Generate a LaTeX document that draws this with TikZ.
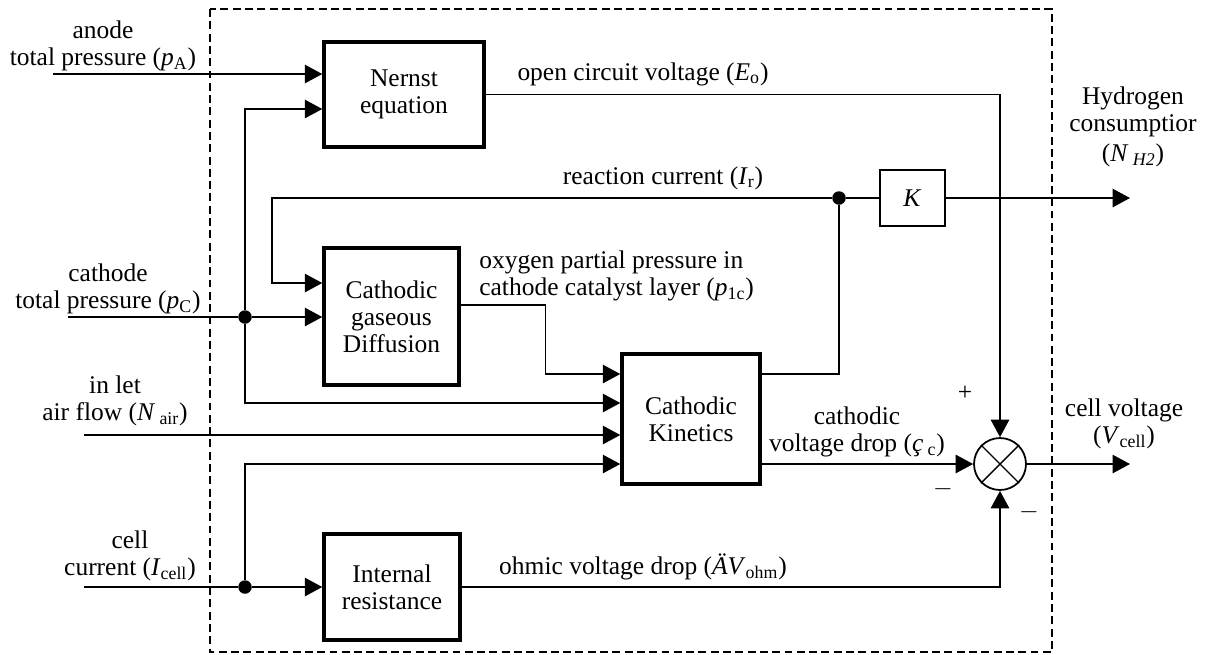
\documentclass[tikz,border=0pt]{standalone}
\usepackage{fontspec}
\setmainfont{Liberation Serif}
\usetikzlibrary{calc}
\usetikzlibrary{positioning}
\usetikzlibrary{arrows.meta}
\tikzstyle{blocknode} = [draw, line width=2pt, rectangle, align=center, inner sep=0pt]
\tikzstyle{gainnode} = [draw, line width=0.8pt, rectangle, minimum width=1.3cm, minimum height=1.12cm]
\tikzstyle{dotnode} = [circle, fill, inner sep=0pt, minimum size=0.27cm]
\tikzstyle{sumnode} = [draw, circle, line width=1pt, minimum size=1.04cm, inner sep=0pt]
\tikzstyle{lblnode} = [align=center, inner sep=0pt]
\tikzstyle{sig} = [line width=0.8pt]
\tikzstyle{sigarr} = [sig, -{Triangle[length=3.5mm, width=3.7mm]}]

\begin{document}
\begin{tikzpicture}[x=0.02cm, y=-0.02cm, font=\fontsize{14.5}{15.4}\selectfont]
\useasboundingbox (0,0) rectangle (1206,654);
% model boundary
\draw[line width=0.8pt, dash pattern=on 4.5pt off 2.5pt] (210,9) rectangle (1052,652);

% blocks
\node[blocknode, minimum width=3.2cm, minimum height=2.1cm] (nernst) at (404,94.5) {Nernst\\equation};
\node[blocknode, minimum width=2.7cm, minimum height=2.74cm] (diff) at (391.5,316.5) {Cathodic\\gaseous\\Diffusion};
\node[blocknode, minimum width=2.76cm, minimum height=2.6cm] (kin) at (691,419) {Cathodic\\Kinetics};
\node[blocknode, minimum width=2.72cm, minimum height=2.12cm] (intres) at (392,587) {Internal\\resistance};
\node[gainnode] (kgain) at (912.5,198) {\textit{K}};
\node[sumnode] (sum) at (1000,464) {};
\draw[sig] (sum.north east) -- (sum.south west);
\draw[sig] (sum.north west) -- (sum.south east);

% branch points
\node[dotnode] (cdot) at (245,317) {};
\node[dotnode] (idot) at (245,587) {};
\node[dotnode] (rdot) at (839,198) {};

% inputs and outputs
\coordinate (an) at (53,74);
\coordinate (ca) at (68,317);
\coordinate (air) at (84,435);
\coordinate (ic) at (84,587);
\coordinate (h2out) at (1130,198);
\coordinate (vout) at (1130,464);
\coordinate (nin2) at ($(nernst.west)+(0,14.5)$);
\coordinate (din1) at ($(diff.west)+(0,-33.5)$);
\coordinate (dout) at ($(diff.east)+(0,-11.5)$);
\path (kin.west) ++(0,-45) coordinate (kin1) ++(0,29) coordinate (kin2) ++(0,32) coordinate (kin3) ++(0,29) coordinate (kin4);

% connectors
\draw[sigarr] (an) -- (an -| nernst.west);
\draw[sig] (ca) -- (cdot);
\draw[sigarr] (cdot) -- (cdot -| diff.west);
\draw[sigarr] (cdot) |- (nin2);
\draw[sigarr] (cdot) |- (kin2);
\draw[sigarr] (air) -- (kin3);
\draw[sig] (ic) -- (idot);
\draw[sigarr] (idot) -- (idot -| intres.west);
\draw[sigarr] (idot) |- (kin4);
\draw[sigarr] (dout) -- ++(85,0) |- (kin1);
\draw[sig] (kin.east |- kin1) -| (rdot);
\draw[sigarr] (rdot) -- ++(-567,0) |- (din1);
\draw[sig] (rdot) -- (kgain);
\draw[sigarr] (kgain) -- (h2out);
\draw[sigarr] (nernst.east) -| (sum.north);
\draw[sigarr] (kin.east |- kin4) -- (sum.west);
\draw[sigarr] (intres.east) -| (sum.south);
\draw[sigarr] (sum.east) -- (vout);

% labels
\node[lblnode] (anlbl) at (103,46) {anode\\total pressure (\textit{p}\textsubscript{A})};
\node[lblnode] (calbl) at (108,289) {cathode\\total pressure (\textit{p}\textsubscript{C})};
\node[lblnode] (airlbl) at (115,401) {in let\\air flow (\textit{N}\,\textsubscript{air})};
\node[lblnode] (iclbl) at (130,556) {cell\\current (\textit{I}\textsubscript{cell})};
\node[lblnode] (eolbl) at (643,74) {open circuit voltage (\textit{E}\textsubscript{o})};
\node[lblnode] (irlbl) at (663,178) {reaction current (\textit{I}\textsubscript{r})};
\node[lblnode, align=left, anchor=west] (p1clbl) at (479,276) {oxygen partial pressure in\\cathode catalyst layer (\textit{p}\textsubscript{1c})};
\node[lblnode] (etalbl) at (857,432) {cathodic\\voltage drop (\textit{ç}\,\textsubscript{c})};
\node[lblnode] (ohmlbl) at (643,567) {ohmic voltage drop (\textit{ÄV}\textsubscript{ohm})};
\node[lblnode] (h2lbl) at (1133,127) {Hydrogen\\consumptior\\[2pt](\textit{N}\,\textsubscript{\textit{H2}})};
\node[lblnode] (vlbl) at (1124,424) {cell voltage\\(\textit{V}\textsubscript{cell})};
\node (plus) at (965,393) {+};
\node (minus1) at (943,489) {$-$};
\node (minus2) at (1029,512) {$-$};
\end{tikzpicture}
\end{document}
